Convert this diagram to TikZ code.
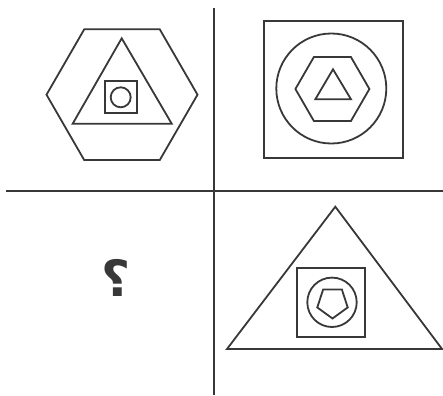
\documentclass[tikz,border=0pt]{standalone}
\usepackage{fontspec}
\newfontfamily\arabicfont[Script=Arabic]{DejaVu Sans}
\TeXXeTstate=1
\definecolor{linegray}{HTML}{383838}
\begin{document}
\begin{tikzpicture}[x=1pt,y=-1pt,
  shp/.style={draw=linegray, line width=1.8pt, line join=miter},
  axis/.style={draw=linegray, line width=2.2pt}]
\useasboundingbox (0,0) rectangle (443,395);
% dividing lines
\coordinate (vtop) at (214,8);
\coordinate (vbot) at (214,395);
\coordinate (hl) at (6,190.7);
\coordinate (hr) at (443,190.7);
\draw[axis] (vtop) -- (vbot);
\draw[axis] (hl) -- (hr);
% top-left figure
\coordinate (c1) at (122,94.7);
\draw[shp] ([shift={(c1)}]0:75.5) \foreach \a in {60,120,...,300} {-- ([shift={(c1)}]\a:75.5)} -- cycle;
\draw[shp] (121.7,38.3) -- (72.7,123.7) -- (171.7,123.7) -- cycle;
\draw[shp] (105,81) rectangle (136.7,112.7);
\draw[shp] (120.7,97.3) circle[radius=10];
% top-right figure
\coordinate (c2) at (332.4,89);
\draw[shp] (263.7,20.7) rectangle (402.7,158.3);
\draw[shp] (331.3,88.5) circle[radius=55];
\draw[shp] ([shift={(c2)}]0:37) \foreach \a in {60,120,...,300} {-- ([shift={(c2)}]\a:37)} -- cycle;
\draw[shp] (333,69.3) -- (315.3,99.3) -- (351,99.3) -- cycle;
% bottom-right figure
\coordinate (c4) at (332.5,302.5);
\draw[shp] (335.3,206.7) -- (227,349) -- (442,349) -- cycle;
\draw[shp] (297,268.3) rectangle (365.3,336.7);
\draw[shp] (332,302.3) circle[radius=24.7];
\draw[shp] ([shift={(c4)}]90:16) \foreach \a in {162,234,306,378} {-- ([shift={(c4)}]\a:16)} -- cycle;
% bottom-left question mark
\node[text=linegray, inner sep=0] (q) at (116,277.5) {\fontsize{50}{50}\selectfont\arabicfont\bfseries\beginR ؟\endR};
\end{tikzpicture}
\end{document}
